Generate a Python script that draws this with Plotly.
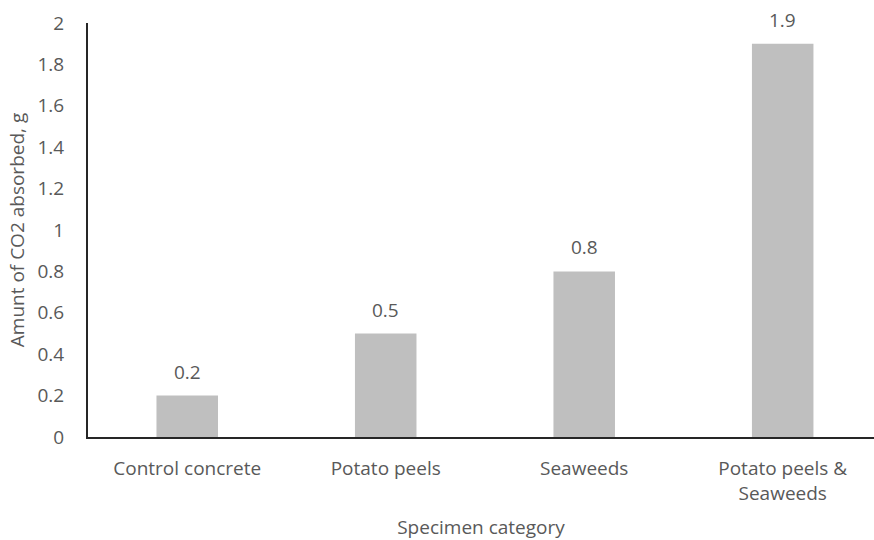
import plotly.graph_objects as go

# Data
categories = ["Control concrete", "Potato peels", "Seaweeds", "Potato peels &<br>Seaweeds"]
co2_absorbed = [0.2, 0.5, 0.8, 1.9]
value_labels = ["0.2", "0.5", "0.8", "1.9"]

text_color = "#595959"
font_family = "Open Sans, Noto Sans, sans-serif"

fig = go.Figure(
    go.Bar(
        x=categories,
        y=co2_absorbed,
        marker=dict(color="#BFBFBF", line=dict(width=0)),
        hoverinfo="skip",
    )
)

# Value labels above each bar
for cat, val, lab in zip(categories, co2_absorbed, value_labels):
    fig.add_annotation(
        x=cat, y=val, text=lab, showarrow=False,
        yanchor="middle", yshift=24,
        font=dict(family=font_family, size=19, color=text_color),
    )

fig.update_layout(
    width=874, height=540,
    margin=dict(l=88, r=0, t=23, b=103),
    paper_bgcolor="white", plot_bgcolor="white",
    bargap=0.69,
    showlegend=False,
    font=dict(family=font_family, size=19, color=text_color),
)

fig.update_xaxes(
    range=[-0.5, 3.46],
    showline=True, linecolor="#262626", linewidth=2,
    showgrid=False, ticks="",
    ticklabelstandoff=13,
    tickfont=dict(size=19, color=text_color),
    title=dict(text="Specimen category", font=dict(size=19, color=text_color), standoff=20),
)

fig.update_yaxes(
    range=[0, 2], dtick=0.2, tick0=0,
    showline=True, linecolor="#262626", linewidth=2,
    showgrid=False, zeroline=False, ticks="",
    ticklabelstandoff=18,
    tickfont=dict(size=19, color=text_color),
    title=dict(text="Amunt of CO2 absorbed, g", font=dict(size=19, color=text_color), standoff=8),
)

fig.write_html("out.html")
